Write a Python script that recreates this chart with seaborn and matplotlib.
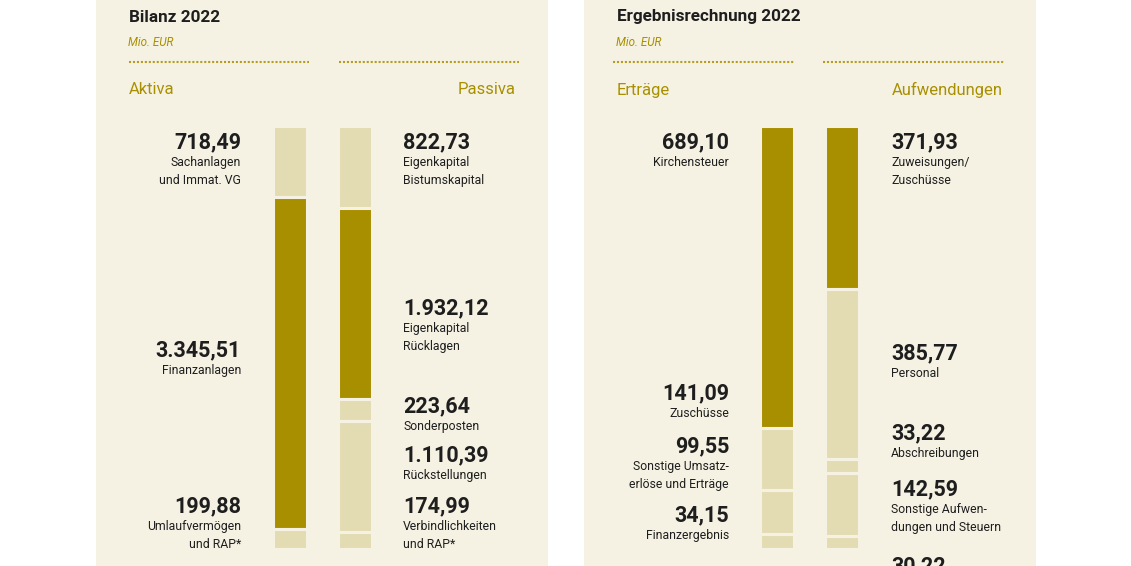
import matplotlib as mpl
import matplotlib.pyplot as plt
import seaborn as sns
import numpy as np

sns.set_theme(style='white')
plt.rcParams['font.family'] = ['Roboto', 'DejaVu Sans']

# ---- data ----
aktiva_labels = ['Sachanlagen\nund Immat. VG', 'Finanzanlagen', 'Umlaufvermögen\nund RAP*']
aktiva_values = [718.49, 3345.51, 199.88]
aktiva_dark = [False, True, False]

passiva_labels = ['Eigenkapital\nBistumskapital', 'Eigenkapital\nRücklagen', 'Sonderposten',
                  'Rückstellungen', 'Verbindlichkeiten\nund RAP*']
passiva_values = [822.73, 1932.12, 223.64, 1110.39, 174.99]
passiva_dark = [False, True, False, False, False]

ertraege_labels = ['Kirchensteuer', 'Zuschüsse', 'Sonstige Umsatz-\nerlöse und Erträge', 'Finanzergebnis']
ertraege_values = [689.10, 141.09, 99.55, 34.15]
ertraege_dark = [True, False, False, False]

aufw_labels = ['Zuweisungen/\nZuschüsse', 'Personal', 'Abschreibungen',
               'Sonstige Aufwen-\ndungen und Steuern', '']
aufw_values = [371.93, 385.77, 33.22, 142.59, 30.22]
aufw_dark = [True, False, False, False, False]

# label anchor heights (pixels from top), layout only
aktiva_label_y = [142, 350, 506]
passiva_label_y = [142, 308, 406, 455, 506]
ertraege_label_y = [142, 393, 446, 515]
aufw_label_y = [142, 353, 433, 489, 566]

BG = '#f5f2e4'
DARK = '#a88f00'
LIGHT = '#e3dcb3'
OLIVE = '#a89000'
INK = '#1e1e1e'

W, H = 1131, 566
fig = plt.figure(figsize=(W / 100, H / 100), dpi=100)
fig.patch.set_facecolor('white')

# background / text layer in pixel coordinates
base = fig.add_axes([0, 0, 1, 1], zorder=0)
base.set_xlim(0, W)
base.set_ylim(H, 0)
base.axis('off')
for x0 in (96, 584):
    base.add_patch(mpl.patches.Rectangle((x0, 0), 452, H, color=BG, lw=0))


def fmt(v):
    s = f'{v:,.2f}'
    return s.replace(',', 'X').replace('.', ',').replace('X', '.')


def bar_axes(x_left):
    # two bars 64.5 px apart, drawn between y=126 and y=549
    ax = fig.add_axes([x_left / W, (H - 549) / H, 129 / W, 423 / H], zorder=1)
    ax.set_facecolor('none')
    ax.axis('off')
    return ax


def stack(ax, xpos, values, dark):
    bottoms = np.concatenate([[0], np.cumsum(values)[:-1]])
    ax.bar([xpos] * len(values), values, bottom=bottoms, width=0.53,
           color=[DARK if d else LIGHT for d in dark], edgecolor=BG, linewidth=2.2)


def labels(x, ys, values, names, ha):
    for y, v, n in zip(ys, values, names):
        base.text(x, y, fmt(v), ha=ha, va='center', fontsize=15.5,
                  fontweight='bold', color=INK)
        if n:
            base.text(x, y + 14, n, ha=ha, va='top', fontsize=8.8,
                      color=INK, linespacing=1.5, multialignment=ha)


def panel(x_title, title, left_head, right_head, dots_a, dots_b, head_right_x):
    base.text(x_title, 17, title, ha='left', va='center', fontsize=12.3,
              fontweight='bold', color=INK)
    base.text(x_title - 1, 42, 'Mio. EUR', ha='left', va='center', fontsize=8.4,
              style='italic', color=OLIVE)
    for a, b in (dots_a, dots_b):
        base.plot([a, b], [62, 62], color=OLIVE, alpha=0.85, lw=1.5,
                  ls=(0, (1.0, 0.9)), dash_capstyle='butt')
    base.text(x_title, 90, left_head, ha='left', va='center', fontsize=12, color=OLIVE)
    base.text(head_right_x, 90, right_head, ha='right', va='center', fontsize=12, color=OLIVE)


# ===== Bilanz 2022 =====
panel(129, 'Bilanz 2022', 'Aktiva', 'Passiva', (129, 309), (339, 519), 516)
ax1 = bar_axes(258)
total1 = max(sum(aktiva_values), sum(passiva_values))
stack(ax1, 0, aktiva_values, aktiva_dark)
stack(ax1, 1, passiva_values, passiva_dark)
ax1.set_xlim(-0.5, 1.5)
ax1.set_ylim(total1, 0)
labels(241, aktiva_label_y, aktiva_values, aktiva_labels, 'right')
labels(403, passiva_label_y, passiva_values, passiva_labels, 'left')

# ===== Ergebnisrechnung 2022 =====
panel(617, 'Ergebnisrechnung 2022', 'Erträge', 'Aufwendungen', (613, 794), (823, 1004), 1003)
ax2 = bar_axes(745)
total2 = max(sum(ertraege_values), sum(aufw_values))
stack(ax2, 0, ertraege_values, ertraege_dark)
stack(ax2, 1, aufw_values, aufw_dark)
ax2.set_xlim(-0.5, 1.5)
ax2.set_ylim(total2, 0)
labels(729, ertraege_label_y, ertraege_values, ertraege_labels, 'right')
labels(891, aufw_label_y, aufw_values, aufw_labels, 'left')

fig.savefig('out.png', dpi=100, facecolor='white')
plt.close(fig)
